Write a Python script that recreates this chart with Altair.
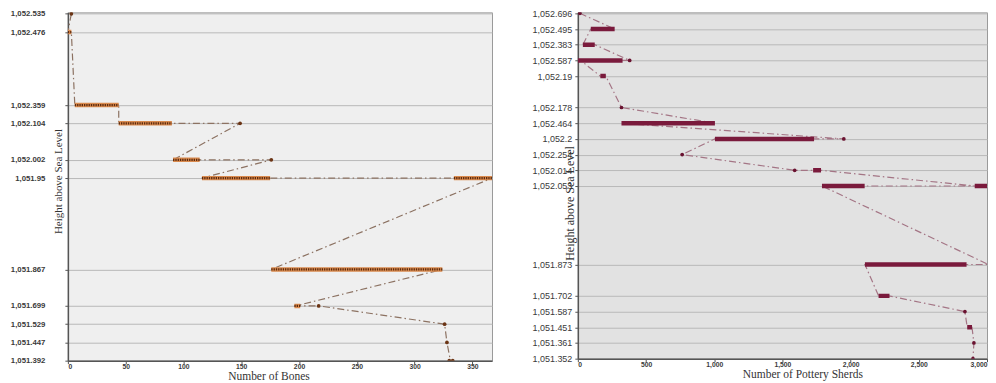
import altair as alt
import pandas as pd

# ---------------- Bones panel ----------------
bone_heights = ["1,052.535", "1,052.476", "1,052.359", "1,052.104", "1,052.002", "1,051.95",
                "1,051.867", "1,051.699", "1,051.529", "1,051.447", "1,051.392"]
bone_level_index = [0, 1, 5, 6, 8, 9, 14, 16, 17, 18, 19]

bone_path_height = ["1,052.535", "1,052.476", "1,052.476", "1,052.359", "1,052.359", "1,052.104",
                    "1,052.104", "1,052.104", "1,052.002", "1,052.002", "1,052.002", "1,051.95",
                    "1,051.95", "1,051.95", "1,051.95", "1,051.867", "1,051.867", "1,051.699",
                    "1,051.699", "1,051.699", "1,051.529", "1,051.447", "1,051.392"]
bone_path_count = [3, 0, 3, 6, 44, 44, 90, 149, 91, 114, 176, 116, 175, 334, 367, 176, 324, 197,
                   201, 217, 326, 328, 331]

bone_run_height = ["1,052.476", "1,052.359", "1,052.104", "1,052.002", "1,051.95", "1,051.95",
                   "1,051.867", "1,051.699"]
bone_run_start = [0, 6, 44, 91, 116, 334, 176, 196]
bone_run_end = [3, 44, 90, 114, 175, 367, 324, 201]

bone_point_height = ["1,052.535", "1,052.104", "1,052.002", "1,051.699", "1,051.529", "1,051.447",
                     "1,051.392", "1,051.392"]
bone_point_count = [3, 149, 176, 217, 326, 328, 330, 333]

bone_x_ticks = [0, 50, 100, 150, 200, 250, 300, 350]

# ---------------- Pottery panel ----------------
sherd_heights = ["1,052.696", "1,052.495", "1,052.383", "1,052.587", "1,052.19", "1,052.178",
                 "1,052.464", "1,052.2", "1,052.254", "1,052.014", "1,052.053", "1,051.873",
                 "1,051.702", "1,051.587", "1,051.451", "1,051.361", "1,051.352"]
sherd_level_index = [0, 1, 2, 3, 4, 6, 7, 8, 9, 10, 11, 16, 18, 19, 20, 21, 22]

sherd_path_height = ["1,052.696", "1,052.495", "1,052.495", "1,052.383", "1,052.383", "1,052.587",
                     "1,052.587", "1,052.19", "1,052.19", "1,052.178", "1,052.464", "1,052.464",
                     "1,052.2", "1,052.2", "1,052.254", "1,052.014", "1,052.014", "1,052.053",
                     "1,052.053", "1,052.053", "1,051.873", "1,051.873", "1,051.702", "1,051.702",
                     "1,051.587", "1,051.451", "1,051.451", "1,051.361", "1,051.352"]
sherd_path_count = [15, 270, 95, 37, 124, 380, 20, 165, 205, 320, 1005, 320, 1950, 1005, 765, 1590,
                    1780, 2910, 3030, 1790, 3010, 2105, 2205, 2280, 2838, 2855, 2890, 2904, 2897]

sherd_run_height = ["1,052.495", "1,052.383", "1,052.587", "1,052.19", "1,052.464", "1,052.2",
                    "1,052.014", "1,052.053", "1,052.053", "1,051.873", "1,051.702", "1,051.451"]
sherd_run_start = [95, 37, 0, 165, 320, 1005, 1725, 1790, 2910, 2105, 2205, 2855]
sherd_run_end = [270, 124, 328, 205, 1005, 1732, 1783, 2103, 3030, 2850, 2285, 2890]

sherd_point_height = ["1,052.696", "1,052.587", "1,052.178", "1,052.2", "1,052.254", "1,052.014",
                      "1,051.587", "1,051.361", "1,051.352"]
sherd_point_count = [15, 380, 320, 1950, 765, 1590, 2838, 2904, 2897]

sherd_x_ticks = [0, 500, 1000, 1500, 2000, 2500, 3000]


def label_expr(heights, idx):
    arr = [""] * (max(idx) + 1)
    for h, i in zip(heights, idx):
        arr[i] = h
    return "[" + ",".join("'" + a + "'" for a in arr) + "][datum.value]"


def panel(heights, idx, path_h, path_c, run_h, run_s, run_e, pt_h, pt_c, x_ticks,
          x_domain, y_domain, x_title, width, height, bg, line_color, run_color, run_dot,
          pt_color, y_label_pad, y_label_size, y_label_weight, y_title_x, y_title_y,
          y_title_size, x_title_x, x_title_size):
    pos = dict(zip(heights, idx))
    path = pd.DataFrame({"order": list(range(len(path_h))),
                         "level": [pos[h] for h in path_h], "count": path_c})
    runs = pd.DataFrame({"level": [pos[h] for h in run_h], "start": run_s, "end": run_e})
    pts = pd.DataFrame({"level": [pos[h] for h in pt_h], "count": pt_c})

    xscale = alt.Scale(domain=x_domain, nice=False, zero=False)
    yscale = alt.Scale(domain=y_domain, reverse=True, nice=False, zero=False)
    xaxis = alt.Axis(values=x_ticks, format=",d", grid=False, tickSize=3, tickColor="#555",
                     domainColor="#555", domainWidth=1.5, labelFont="Liberation Sans",
                     labelFontSize=6.8, labelFontWeight="bold", labelColor="#3a3a3a",
                     labelPadding=0, labelFlush=True, labelOverlap=False,
                     title=x_title, titleFont="Liberation Serif", titleFontSize=x_title_size,
                     titleFontWeight="normal", titleColor="#333", titleX=x_title_x, titleY=19,
                     titleBaseline="alphabetic", titleAlign="center")
    yaxis = alt.Axis(values=idx, labelExpr=label_expr(heights, idx), grid=True,
                     gridColor="#b9b9b9", gridWidth=1, tickSize=3, tickColor="#555",
                     domainColor="#555", domainWidth=1.5, labelFont="Liberation Sans",
                     labelFontSize=y_label_size, labelFontWeight=y_label_weight,
                     labelColor="#3a3a3a", labelPadding=y_label_pad, labelOverlap=False,
                     title="Height above Sea Level", titleFont="Liberation Serif",
                     titleFontSize=y_title_size, titleFontWeight="normal", titleColor="#333",
                     titleAngle=270, titleX=y_title_x, titleY=y_title_y, titleAlign="center",
                     titleBaseline="middle")

    line = alt.Chart(path).mark_line(color=line_color, strokeWidth=1.2,
                                     strokeDash=[7, 3, 1.5, 3], clip=True).encode(
        x=alt.X("count:Q", scale=xscale, axis=xaxis),
        y=alt.Y("level:Q", scale=yscale, axis=yaxis),
        order="order:Q")
    base_run = alt.Chart(runs).mark_rule(color=run_color, strokeWidth=4.5, clip=True).encode(
        x=alt.X("start:Q", scale=xscale, axis=xaxis), x2="end:Q",
        y=alt.Y("level:Q", scale=yscale, axis=yaxis))
    layers = [line, base_run]
    if run_dot:
        layers.append(alt.Chart(runs).mark_rule(color=run_dot, strokeWidth=2.2,
                                                strokeDash=[1.3, 1.0], clip=True).encode(
            x=alt.X("start:Q", scale=xscale, axis=xaxis), x2="end:Q",
            y=alt.Y("level:Q", scale=yscale, axis=yaxis)))
    layers.append(alt.Chart(pts).mark_point(filled=True, size=14, color=pt_color,
                                            opacity=1, clip=True).encode(
        x=alt.X("count:Q", scale=xscale, axis=xaxis),
        y=alt.Y("level:Q", scale=yscale, axis=yaxis)))
    return alt.layer(*layers).properties(
        width=width, height=height,
        view=alt.ViewBackground(fill=bg, stroke="#9a9a9a", strokeWidth=1))


left = panel(bone_heights, bone_level_index, bone_path_height, bone_path_count,
             bone_run_height, bone_run_start, bone_run_end, bone_point_height, bone_point_count,
             bone_x_ticks, [0, 367], [-0.08, 19], "Number of Bones", 425, 349, "#efefef",
             "#8c7262", "#d98a4e", "#5b2a0e", "#6b3414", 20, 7.8, "bold", -9, 169, 11, 201, 11.5)

right = panel(sherd_heights, sherd_level_index, sherd_path_height, sherd_path_count,
              sherd_run_height, sherd_run_start, sherd_run_end, sherd_point_height,
              sherd_point_count, sherd_x_ticks, [0, 3000], [-0.06, 22],
              "Number of Pottery Sherds", 410, 347, "#e2e2e2", "#a47585", "#7a1a3c", None,
              "#6a1230", 3, 9, "normal", -8, 191, 12, 225, 11.5)

chart = alt.hconcat(left, right, spacing=38).properties(
    padding={"top": 0, "left": 1, "right": 0, "bottom": 0}
).configure_axis(labelOverlap=False)

chart.save("out.html", embed_options={"renderer": "svg", "actions": False})
